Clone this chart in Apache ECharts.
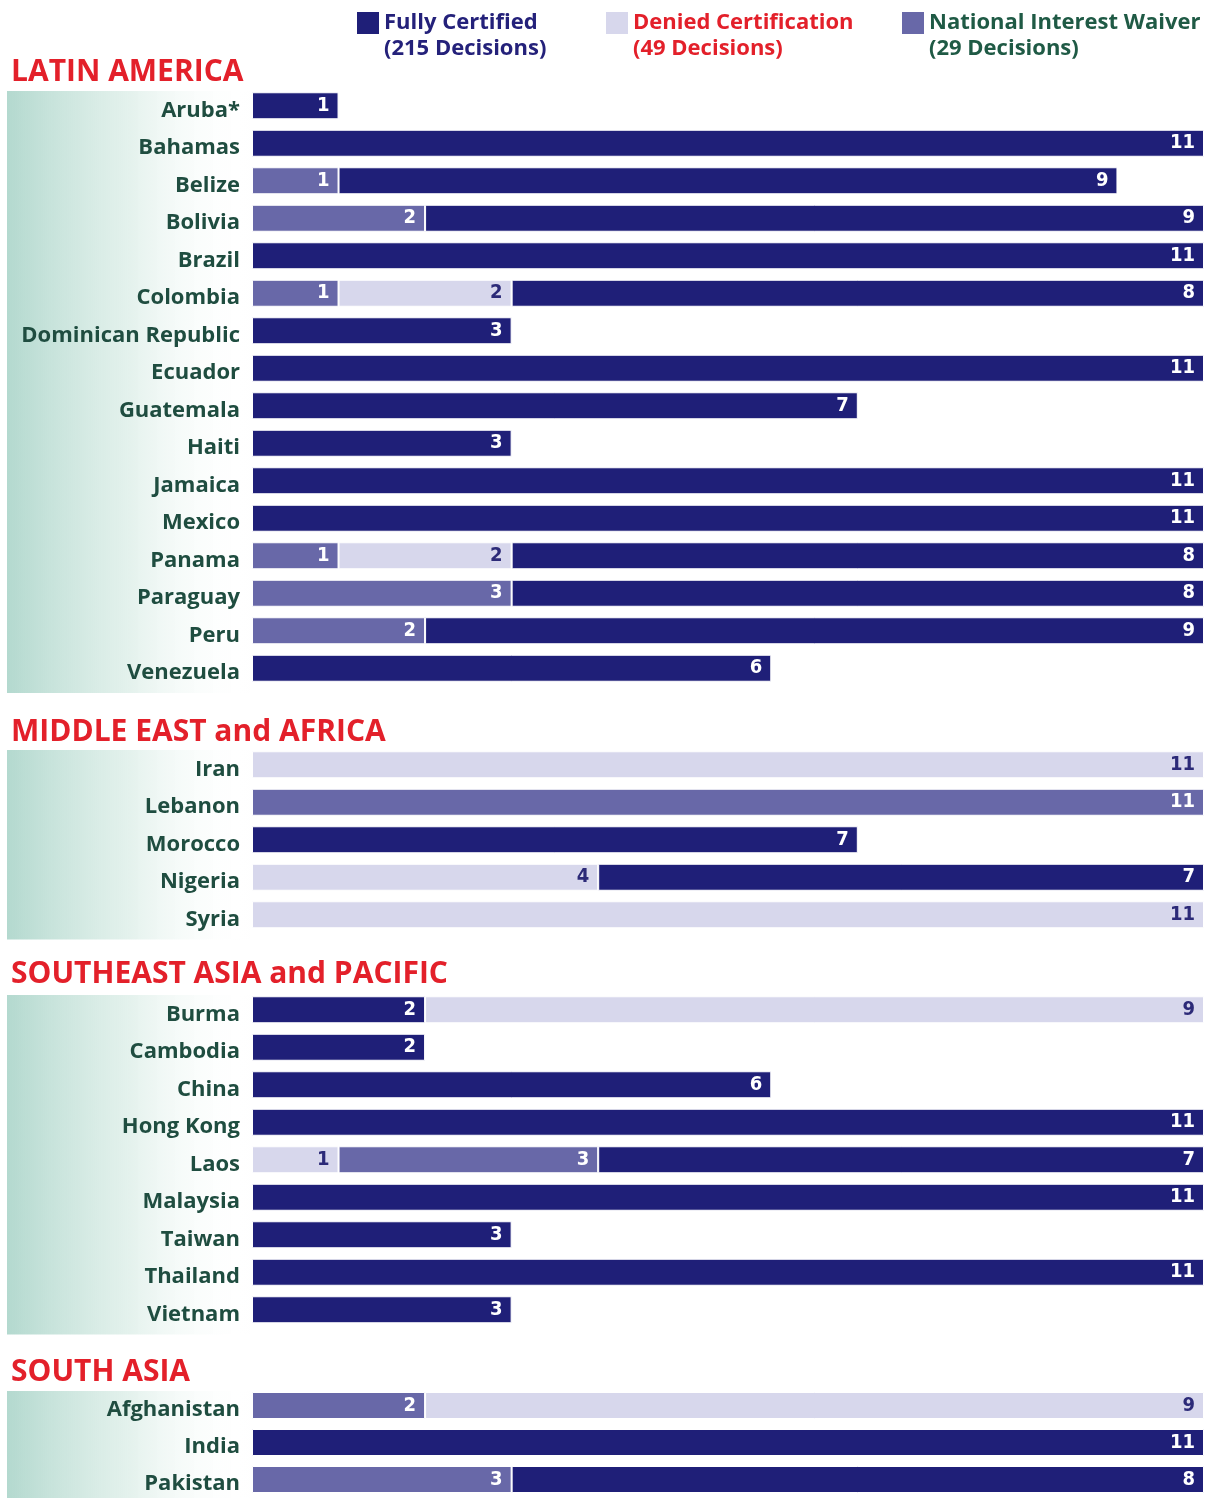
<!DOCTYPE html>
<html>
<head>
<meta charset="utf-8">
<script src="https://cdn.jsdelivr.net/npm/echarts@6/dist/echarts.min.js"></script>
<style>
  html, body { margin: 0; padding: 0; background: #fff; }
  #chart { width: 1219px; height: 1498px; }
</style>
</head>
<body>
<div id="chart"></div>
<script>
// region headers
const regions = ['LATIN AMERICA', 'MIDDLE EAST and AFRICA', 'SOUTHEAST ASIA and PACIFIC', 'SOUTH ASIA'];

// countries per region (top to bottom)
const latinCountries = ['Aruba*', 'Bahamas', 'Belize', 'Bolivia', 'Brazil', 'Colombia', 'Dominican Republic', 'Ecuador',
  'Guatemala', 'Haiti', 'Jamaica', 'Mexico', 'Panama', 'Paraguay', 'Peru', 'Venezuela'];
const meaCountries = ['Iran', 'Lebanon', 'Morocco', 'Nigeria', 'Syria'];
const seaCountries = ['Burma', 'Cambodia', 'China', 'Hong Kong', 'Laos', 'Malaysia', 'Taiwan', 'Thailand', 'Vietnam'];
const saCountries = ['Afghanistan', 'India', 'Pakistan'];

// segment kinds, left to right: F = fully certified, D = denied, W = national interest waiver
const latinKinds = ['F', 'F', 'WF', 'WF', 'F', 'WDF', 'F', 'F', 'F', 'F', 'F', 'F', 'WDF', 'WF', 'WF', 'F'];
const meaKinds = ['D', 'W', 'F', 'DF', 'D'];
const seaKinds = ['FD', 'F', 'F', 'F', 'DWF', 'F', 'F', 'F', 'F'];
const saKinds = ['WD', 'F', 'WF'];

// number of decisions in each segment
const latinCounts = [[1], [11], [1, 9], [2, 9], [11], [1, 2, 8], [3], [11], [7], [3], [11], [11], [1, 2, 8], [3, 8], [2, 9], [6]];
const meaCounts = [[11], [11], [7], [4, 7], [11]];
const seaCounts = [[2, 9], [2], [6], [11], [1, 3, 7], [11], [3], [11], [3]];
const saCounts = [[2, 9], [11], [3, 8]];

const kindNames = { F: 'Fully Certified', D: 'Denied Certification', W: 'National Interest Waiver' };
const kindColors = { F: '#1f1f78', D: '#d7d7ec', W: '#6868a8' };
const kindLabelColors = { F: '#ffffff', D: '#2c2a78', W: '#ffffff' };
const legendTextColors = { F: '#24217a', D: '#e3202a', W: '#1f5a45' };

const groups = [
  { countries: latinCountries, kinds: latinKinds, counts: latinCounts, top: 87, head: 52 },
  { countries: meaCountries, kinds: meaKinds, counts: meaCounts, top: 746, head: 712 },
  { countries: seaCountries, kinds: seaKinds, counts: seaCounts, top: 991, head: 954 },
  { countries: saCountries, kinds: saKinds, counts: saCounts, top: 1387, head: 1352 },
];
const ROW = 37.5;

// totals for the legend
const totals = { F: 0, D: 0, W: 0 };
groups.forEach(g => g.kinds.forEach((k, i) => k.split('').forEach((c, j) => { totals[c] += g.counts[i][j]; })));

const chart = echarts.init(document.getElementById('chart'));

const grid = [], xAxis = [], yAxis = [], title = [], series = [], graphic = [];

groups.forEach((g, gi) => {
  const h = g.countries.length * ROW;
  grid.push({ left: 252, right: 15, top: g.top, height: h });
  xAxis.push({
    gridIndex: gi, type: 'value', min: 0, max: 11, show: false,
  });
  yAxis.push({
    gridIndex: gi, type: 'category', inverse: true, data: g.countries,
    axisLine: { show: false }, axisTick: { show: false },
    axisLabel: {
      margin: 12,
      // empty first line pushes the name a little below the bar centre
      formatter: v => '{gap|}\n{name|' + v + '}',
      rich: {
        gap: { lineHeight: 9, fontSize: 1 },
        name: { color: '#1f4d40', fontFamily: 'Open Sans', fontWeight: 'bold', fontSize: 22, lineHeight: 26 },
      },
    },
  });
  title.push({
    text: regions[gi], left: 6, top: g.head,
    textStyle: { color: '#e3202a', fontFamily: 'Open Sans', fontWeight: 'bold', fontSize: 30 },
  });
  // green strip behind the country names
  graphic.push({
    type: 'rect', z: -1,
    shape: { x: 7, y: g.top + 4, width: 243, height: h + 2 },
    style: {
      fill: new echarts.graphic.LinearGradient(0, 0, 1, 0, [
        { offset: 0, color: 'rgba(150,202,188,0.72)' },
        { offset: 0.5, color: 'rgba(200,228,218,0.5)' },
        { offset: 1, color: 'rgba(255,255,255,0)' },
      ]),
    },
  });
  // one stacked series per slot; colour follows the segment kind
  for (let s = 0; s < 3; s++) {
    series.push({
      type: 'bar', stack: 'g' + gi, xAxisIndex: gi, yAxisIndex: gi,
      barWidth: 27, silent: true,
      itemStyle: { borderColor: '#ffffff', borderWidth: 1 },
      label: {
        show: true, position: 'insideRight', distance: 9,
        fontFamily: "'Liberation Sans Narrow', 'DejaVu Sans Condensed', sans-serif",
        fontWeight: 'bold', fontSize: 20,
      },
      data: g.counts.map((c, i) => {
        const k = g.kinds[i][s];
        if (!k) return '-';
        return {
          value: c[s],
          itemStyle: { color: kindColors[k] },
          label: { color: kindLabelColors[k] },
        };
      }),
    });
  }
});

// empty series that only feed the legends
['F', 'D', 'W'].forEach(k => {
  series.push({
    name: kindNames[k], type: 'bar', stack: 'g0', xAxisIndex: 0, yAxisIndex: 0,
    itemStyle: { color: kindColors[k] }, data: [],
  });
});

const legendLeft = { F: 357, D: 606, W: 902 };
const legend = ['F', 'D', 'W'].map(k => ({
  left: legendLeft[k], top: 12, padding: 0, orient: 'horizontal',
  icon: 'rect', itemWidth: 22, itemHeight: 22, itemGap: 6,
  selectedMode: false,
  data: [{ name: kindNames[k], textStyle: { color: legendTextColors[k] } }],
  textStyle: { fontFamily: 'Open Sans', fontWeight: 'bold', fontSize: 22 },
}));
// second legend line: decision counts
['F', 'D', 'W'].forEach(k => {
  graphic.push({
    type: 'text', left: legendLeft[k] + 27, top: 38,
    style: {
      text: '(' + totals[k] + ' Decisions)', fill: legendTextColors[k],
      font: 'bold 22px "Open Sans"',
    },
  });
});

chart.setOption({
  animation: false,
  title, grid, xAxis, yAxis, legend, series, graphic,
});
</script>
</body>
</html>
